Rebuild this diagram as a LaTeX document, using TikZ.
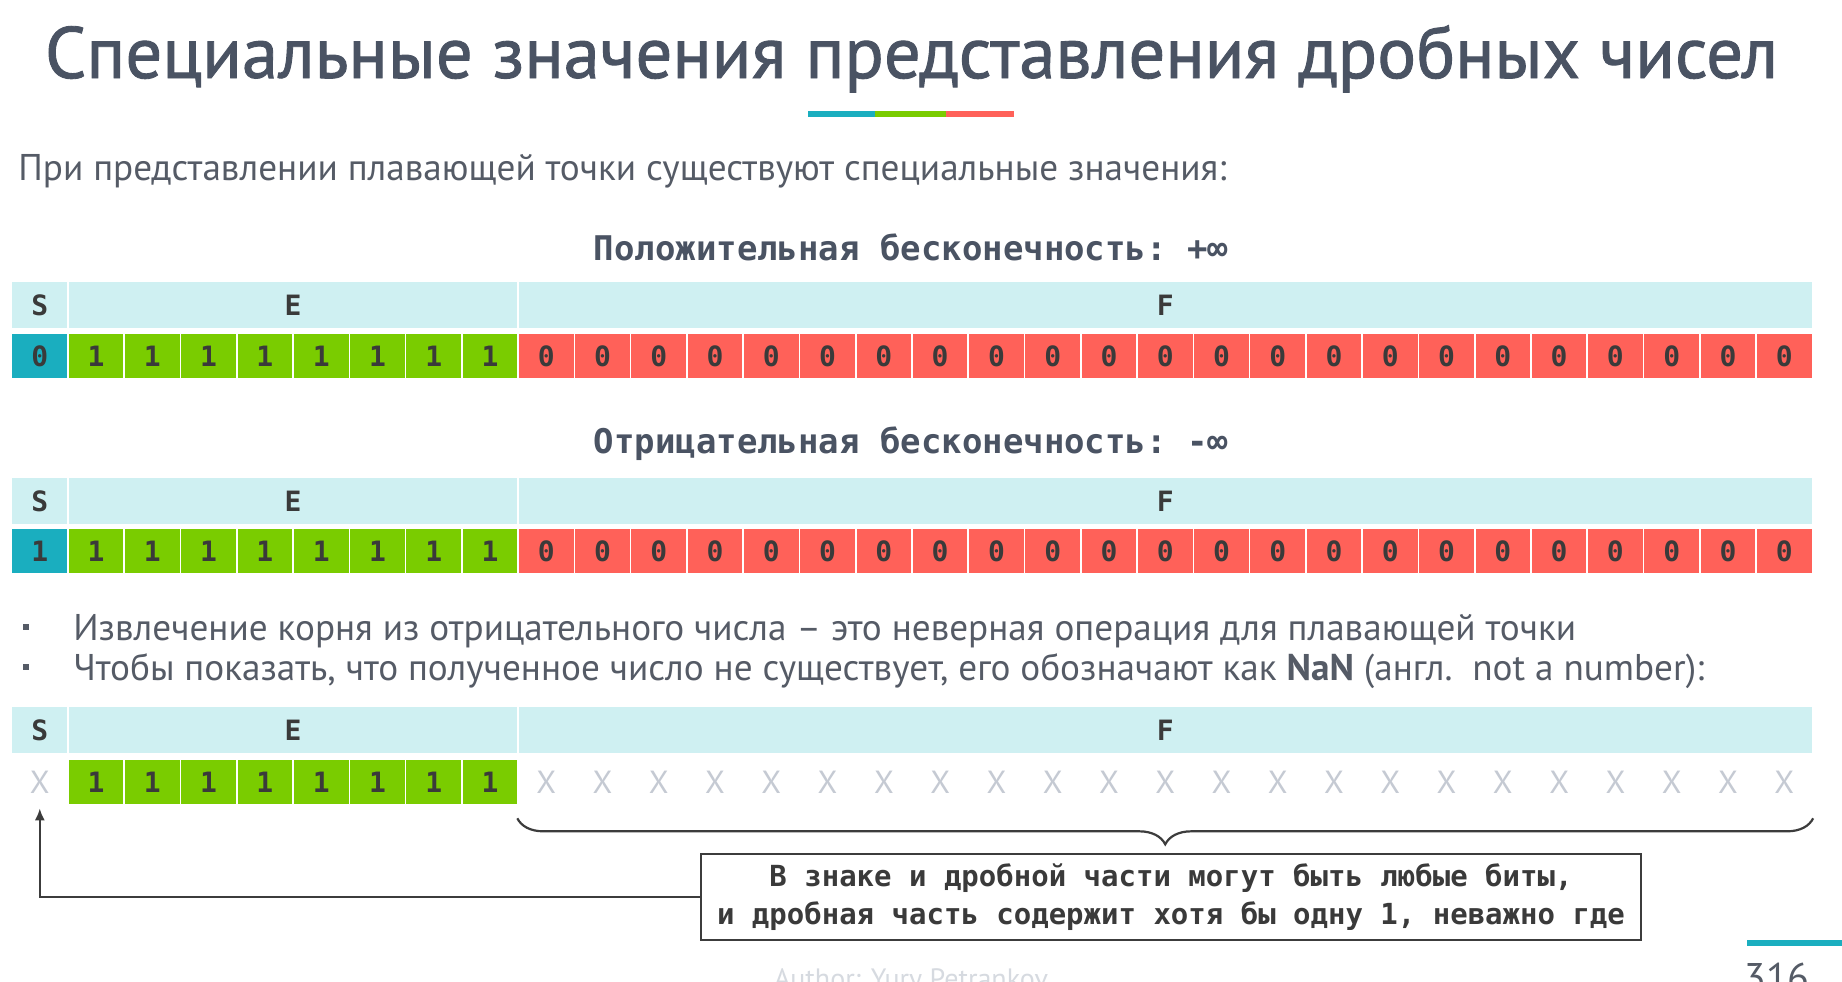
\documentclass[tikz,border=0pt]{standalone}
\usepackage{fontspec}
\setmainfont{PT Sans}
\setmonofont{DejaVu Sans Mono}
\usetikzlibrary{positioning,decorations.pathreplacing,arrows.meta}

\definecolor{titlegray}{HTML}{4A5363}
\definecolor{textgray}{HTML}{555B66}
\definecolor{hdrcyan}{HTML}{CFF0F2}
\definecolor{signteal}{HTML}{1AAEBF}
\definecolor{expgreen}{HTML}{7ACC00}
\definecolor{fracred}{HTML}{FF6159}
\definecolor{xgray}{HTML}{C5CAD3}
\definecolor{digitdark}{HTML}{3A3A3A}
\definecolor{boxgray}{HTML}{3C3C3C}

\tikzset{
  cell/.style={minimum width=28.13pt, minimum height=22.5pt, inner sep=0pt,
    draw=white, line width=0.8pt, text=digitdark,
    font=\ttfamily\bfseries\fontsize{14}{14}\selectfont},
  hdr/.style={cell, fill=hdrcyan, minimum height=23.5pt},
  sbit/.style={cell, fill=signteal},
  ebit/.style={cell, fill=expgreen},
  fbit/.style={cell, fill=fracred},
  xbit/.style={cell, draw=none, text=xgray, font=\fontsize{16}{16}\selectfont},
  caption/.style={text=titlegray, font=\ttfamily\bfseries\fontsize{17}{17}\selectfont},
  bodytext/.style={anchor=base west, inner sep=0pt, text=textgray,
    font=\fontsize{18.6}{18.6}\selectfont},
}

\begin{document}
\begin{tikzpicture}[x=0.5pt,y=-0.5pt]
  \useasboundingbox (0,0) rectangle (1842,981);
  \fill[white] (0,0) rectangle (1842,981);
  % title and coloured underline
  \node[anchor=base, inner sep=0pt, text=titlegray,
    font=\fontsize{36.4}{36.4}\selectfont\addfontfeature{FakeBold=1.2}]
    (title) at (911.5,78) {Специальные значения представления дробных чисел};
  \fill[signteal] (808,111) rectangle (875,117);
  \fill[expgreen] (875,111) rectangle (946,117);
  \fill[fracred] (946,111) rectangle (1014,117);
  \node[bodytext] (intro) at (18,180)
    {При представлении плавающей точки существуют специальные значения:};
  % infinities
  \node[caption] (cap-p) at (911,247) {Положительная бесконечность: +∞};
  \node[caption] (cap-m) at (911,444) {Отрицательная бесконечность: -∞};
  \foreach \r/\hy/\by/\sv in {p/305/356/0, m/501/551/1} {
    \node[hdr] (\r-S) at (39.8,\hy) {S};
    \node[hdr, minimum width=225.04pt] (\r-E) at (293.05,\hy) {E};
    \node[hdr, minimum width=647.1pt] (\r-F) at (1165.2,\hy) {F};
    \node[sbit] (\r-s) at (39.8,\by) {\sv};
    \foreach \i [evaluate=\i as \cx using 11.7+56.27*(\i+0.5)] in {1,...,8}
      \node[ebit] (\r-e\i) at (\cx,\by) {1};
    \foreach \i [evaluate=\i as \cx using 11.7+56.27*(\i+0.5)] in {9,...,31}
      \node[fbit] (\r-f\i) at (\cx,\by) {0};
  }
  % NaN
  \fill[textgray] (23,624) rectangle (29,630);
  \fill[textgray] (23,664) rectangle (29,670);
  \node[bodytext] (item1) at (73,640)
    {Извлечение корня из отрицательного числа – это неверная операция для плавающей точки};
  \node[bodytext] (item2) at (73,680)
    {Чтобы показать, что полученное число не существует, его обозначают как {\bfseries NaN} (англ.\ \ not a number):};
  \node[hdr] (n-S) at (39.8,730) {S};
  \node[hdr, minimum width=225.04pt] (n-E) at (293.05,730) {E};
  \node[hdr, minimum width=647.1pt] (n-F) at (1165.2,730) {F};
  \node[xbit] (n-s) at (39.8,782) {X};
  \foreach \i [evaluate=\i as \cx using 11.7+56.27*(\i+0.5)] in {1,...,8}
    \node[ebit] (n-e\i) at (\cx,782) {1};
  \foreach \i [evaluate=\i as \cx using 11.7+56.27*(\i+0.5)] in {9,...,31}
    \node[xbit] (n-f\i) at (\cx,782) {X};
  \node[draw=boxgray, line width=1.2pt, minimum width=470pt, minimum height=43pt,
    align=center, text=digitdark, font=\ttfamily\bfseries\fontsize{14.5}{19}\selectfont]
    (note) at (1171,897)
    {В знаке и дробной части могут быть любые биты,\\и дробная часть содержит хотя бы одну 1, неважно где};
  \draw[decorate, decoration={brace, mirror, amplitude=13pt}, line width=1.1pt, boxgray]
    ([yshift=-6.5pt]n-f9.south west) -- ([yshift=-6.5pt]n-f31.south east);
  \draw[-{Latex[length=6pt,width=5pt]}, line width=1.1pt, boxgray]
    (note.west) -| ([yshift=-1.5pt]n-s.south);
  % footer
  \fill[signteal] (1747,940) rectangle (1842,946);
  \node[anchor=north, inner sep=0pt, text=textgray, font=\fontsize{20}{20}\selectfont]
    (page) at (1777,963) {316};
  \node[anchor=north, inner sep=0pt, text=xgray!70, font=\fontsize{14}{14}\selectfont]
    (author) at (911,968) {Author: Yury Petrankov};
\end{tikzpicture}
\end{document}
